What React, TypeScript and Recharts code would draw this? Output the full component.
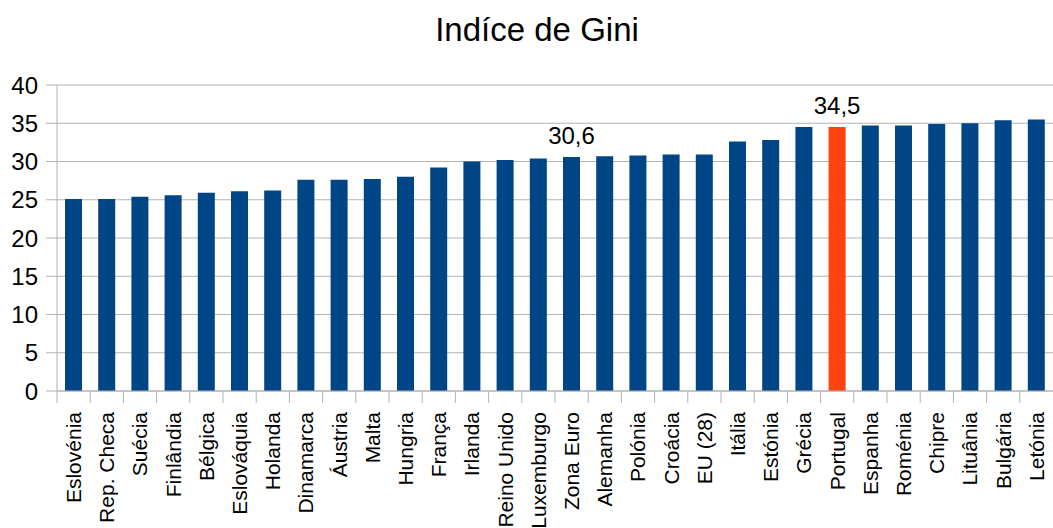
import React from "react";
import { BarChart, Bar, XAxis, YAxis, CartesianGrid, Cell, LabelList } from "recharts";

const countries = [
  "Eslovénia", "Rep. Checa", "Suécia", "Finlândia", "Bélgica", "Eslováquia",
  "Holanda", "Dinamarca", "Áustria", "Malta", "Hungria", "França", "Irlanda",
  "Reino Unido", "Luxemburgo", "Zona Euro", "Alemanha", "Polónia", "Croácia",
  "EU (28)", "Itália", "Estónia", "Grécia", "Portugal", "Espanha", "Roménia",
  "Chipre", "Lituânia", "Bulgária", "Letónia",
];

const gini = [
  25.1, 25.1, 25.4, 25.6, 25.9, 26.1, 26.2, 27.6, 27.6, 27.7, 28.0, 29.2, 30.0,
  30.2, 30.4, 30.6, 30.7, 30.8, 30.9, 30.9, 32.6, 32.8, 34.5, 34.5, 34.7, 34.7,
  34.9, 35.0, 35.4, 35.5,
];

const yTicks = [0, 5, 10, 15, 20, 25, 30, 35, 40];
const labelled = ["Zona Euro", "Portugal"];
const highlight = "Portugal";

const W = 1053;
const H = 528;
const LEFT = 57;
const BAND = (W - LEFT) / countries.length;
const FONT = "'Liberation Sans', Arial, sans-serif";
const GRID = "#b3b3b3";

const data = countries.map((name, i) => ({
  name,
  value: gini[i],
  label: labelled.includes(name) ? gini[i].toFixed(1).replace(".", ",") : "",
}));

// country names run upward, with a tick on the left edge of each band
const CountryTick = (props: any) => {
  const { x, y, payload } = props;
  const lx = x - BAND / 2;
  return (
    <g>
      <line x1={lx} y1={y} x2={lx} y2={y + 12} stroke={GRID} strokeWidth={1} />
      <text
        x={x}
        y={y + 21}
        transform={`rotate(-90, ${x}, ${y + 21})`}
        textAnchor="end"
        dy="0.35em"
        fontSize={21}
        fontFamily={FONT}
        fill="#000"
      >
        {payload.value}
      </text>
    </g>
  );
};

export default function App() {
  return (
    <div style={{ position: "absolute", left: 0, top: 0, width: W, height: H, background: "#fff" }}>
      <div
        style={{
          position: "absolute",
          left: 337,
          top: 13,
          width: 400,
          textAlign: "center",
          fontFamily: FONT,
          fontSize: 33,
          lineHeight: "33px",
          color: "#000",
        }}
      >
        Indíce de Gini
      </div>
      <BarChart
        width={W}
        height={H}
        data={data}
        margin={{ top: 85, right: 0, bottom: 0, left: 0 }}
        barSize={17}
      >
        <CartesianGrid vertical={false} stroke={GRID} />
        <XAxis
          dataKey="name"
          interval={0}
          height={137}
          tickSize={0}
          tickMargin={0}
          tickLine={false}
          axisLine={{ stroke: GRID }}
          tick={<CountryTick />}
        />
        <YAxis
          domain={[0, 40]}
          ticks={yTicks}
          width={LEFT}
          tickSize={11}
          tickMargin={8}
          tickLine={{ stroke: GRID }}
          axisLine={{ stroke: GRID }}
          tick={{ fontSize: 24, fontFamily: FONT, fill: "#000" }}
        />
        <Bar dataKey="value" fill="#004586" isAnimationActive={false}>
          {data.map((d) => (
            <Cell key={d.name} fill={d.name === highlight ? "#ff420e" : "#004586"} />
          ))}
          <LabelList
            dataKey="label"
            position="top"
            offset={13}
            fontSize={24}
            fontFamily={FONT}
            fill="#000"
          />
        </Bar>
      </BarChart>
    </div>
  );
}
